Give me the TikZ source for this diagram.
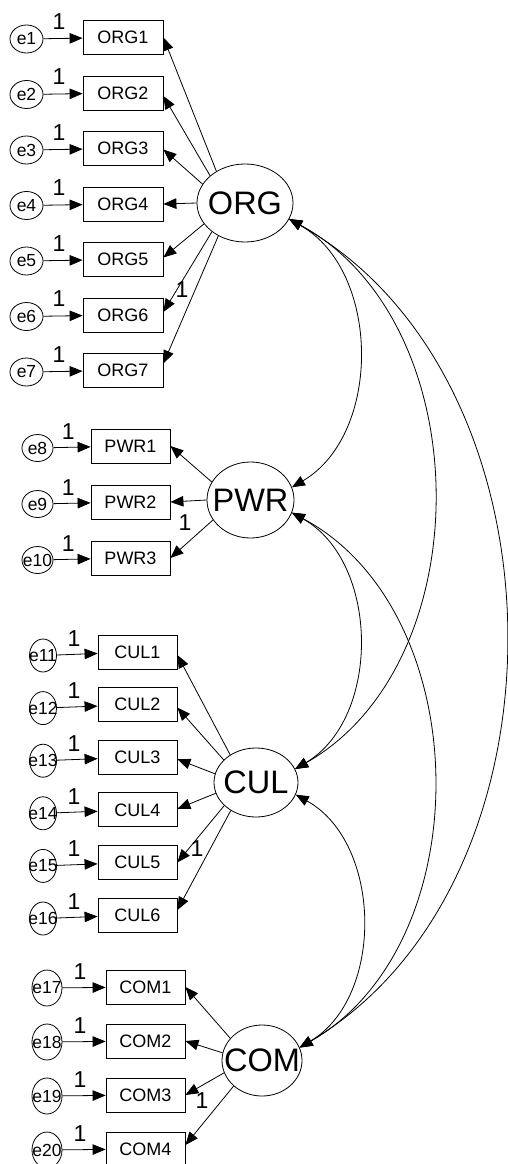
\documentclass[tikz,border=0pt]{standalone}
\usepackage{fontspec}
\setmainfont{Liberation Sans}
\usetikzlibrary{shapes.geometric, arrows.meta}
\begin{document}
\begin{tikzpicture}[x=1pt, y=-1pt,
  obs/.style={draw, rectangle, line width=0.8pt, minimum width=79pt, minimum height=34pt, inner sep=0pt, font=\fontsize{18}{18}\selectfont},
  err/.style={draw, ellipse, line width=0.8pt, inner sep=0pt},
  etxt/.style={inner sep=0pt, font=\fontsize{17.5}{17.5}\selectfont},
  lat/.style={draw, ellipse, line width=0.8pt, inner sep=0pt},
  lattxt/.style={inner sep=0pt, font=\fontsize{32.5}{32.5}\selectfont},
  one/.style={inner sep=0pt, font=\fontsize{23}{23}\selectfont},
  arr/.style={-{Triangle[length=13pt,width=10.5pt]}, line width=0.8pt},
  cov/.style={{Triangle[length=13pt,width=10.5pt]}-{Triangle[length=13pt,width=10.5pt]}, line width=0.8pt}
]
\useasboundingbox (0,0) rectangle (507,1164);

% latent variables
\node[lat, minimum width=96pt, minimum height=78pt, label={[lattxt]center:ORG}] (ORG) at (245,203) {};
\node[lat, minimum width=87pt, minimum height=76pt, label={[lattxt]center:PWR}] (PWR) at (250.5,500) {};
\node[lat, minimum width=84pt, minimum height=69pt, label={[lattxt]center:CUL}] (CUL) at (256,782.5) {};
\node[lat, minimum width=80pt, minimum height=71pt, label={[lattxt]center:COM}] (COM) at (262,1060.5) {};

% ORG indicators
\foreach \i [evaluate=\i as \y using 37.5+55.5*(\i-1)] in {1,...,7} {
  \node[obs, minimum width=80pt] (ORG\i) at (123,\y) {ORG\i};
  \node[err, minimum width=33pt, minimum height=28pt, label={[etxt]center:e\i}] (e\i) at (26.5,\y+1.5) {};
  \draw[arr] (e\i) -- node[one, pos=0.4, yshift=17pt] {1} (ORG\i);
}
% PWR indicators
\foreach \i [evaluate=\i as \y using 446+56*(\i-1), evaluate=\i as \j using int(\i+7)] in {1,2,3} {
  \node[obs] (PWR\i) at (130.5,\y) {PWR\i};
  \node[err, minimum width=31pt, minimum height=27pt, label={[etxt]center:e\j}] (e\j) at (37.5,\y+2) {};
  \draw[arr] (e\j) -- node[one, pos=0.4, yshift=16pt] {1} (PWR\i);
}
% CUL indicators
\foreach \i [evaluate=\i as \y using 652+52.6*(\i-1), evaluate=\i as \j using int(\i+10)] in {1,...,6} {
  \node[obs] (CUL\i) at (137.5,\y) {CUL\i};
  \node[err, minimum width=27pt, minimum height=33pt, label={[etxt]center:e\j}] (e\j) at (43,\y+3.5) {};
  \draw[arr] (e\j) -- node[one, pos=0.42, yshift=16pt] {1} (CUL\i);
}
% COM indicators
\foreach \i [evaluate=\i as \y using 987+54*(\i-1), evaluate=\i as \j using int(\i+16)] in {1,...,4} {
  \node[obs] (COM\i) at (145.5,\y) {COM\i};
  \node[err, minimum width=30pt, minimum height=36pt, label={[etxt]center:e\j}] (e\j) at (47,\y+1) {};
  \draw[arr] (e\j) -- node[one, pos=0.41, yshift=16pt] {1} (COM\i);
}

% loadings
\foreach \i/\a/\s in {1/132/0,2/142/-3,3/156/-1,4/180/0,5/207/2,6/221/3,7/231/7}
  \draw[arr] (ORG.\a) -- ([yshift=\s pt]ORG\i.east);
\foreach \i/\a/\s in {1/155/0,2/180/0,3/208/0}
  \draw[arr] (PWR.\a) -- ([yshift=\s pt]PWR\i.east);
\foreach \i/\a/\s in {1/133/-3,2/145/-3,3/168/-2,4/195/1,5/216/0,6/228/5}
  \draw[arr] (CUL.\a) -- ([yshift=\s pt]CUL\i.east);
\foreach \i/\a/\s in {1/145/0,2/169/0,3/198/0,4/222/4}
  \draw[arr] (COM.\a) -- ([yshift=\s pt]COM\i.east);

% fixed loading labels
\node[one] (lORG) at (182,290) {1};
\node[one] (lPWR) at (185,523) {1};
\node[one] (lCUL) at (197,849) {1};
\node[one] (lCOM) at (202,1101) {1};

% covariances
\draw[cov] (ORG.-20) to[bend left=60] (PWR.17);
\draw[cov] (ORG.-20) to[bend left=61] (CUL.19);
\draw[cov] (ORG.-20) to[bend left=60] (COM.19);
\draw[cov] (PWR.-17) to[bend left=60] (CUL.19);
\draw[cov] (PWR.-17) to[bend left=61] (COM.19);
\draw[cov] (CUL.-17) to[bend left=60] (COM.19);
\end{tikzpicture}
\end{document}
